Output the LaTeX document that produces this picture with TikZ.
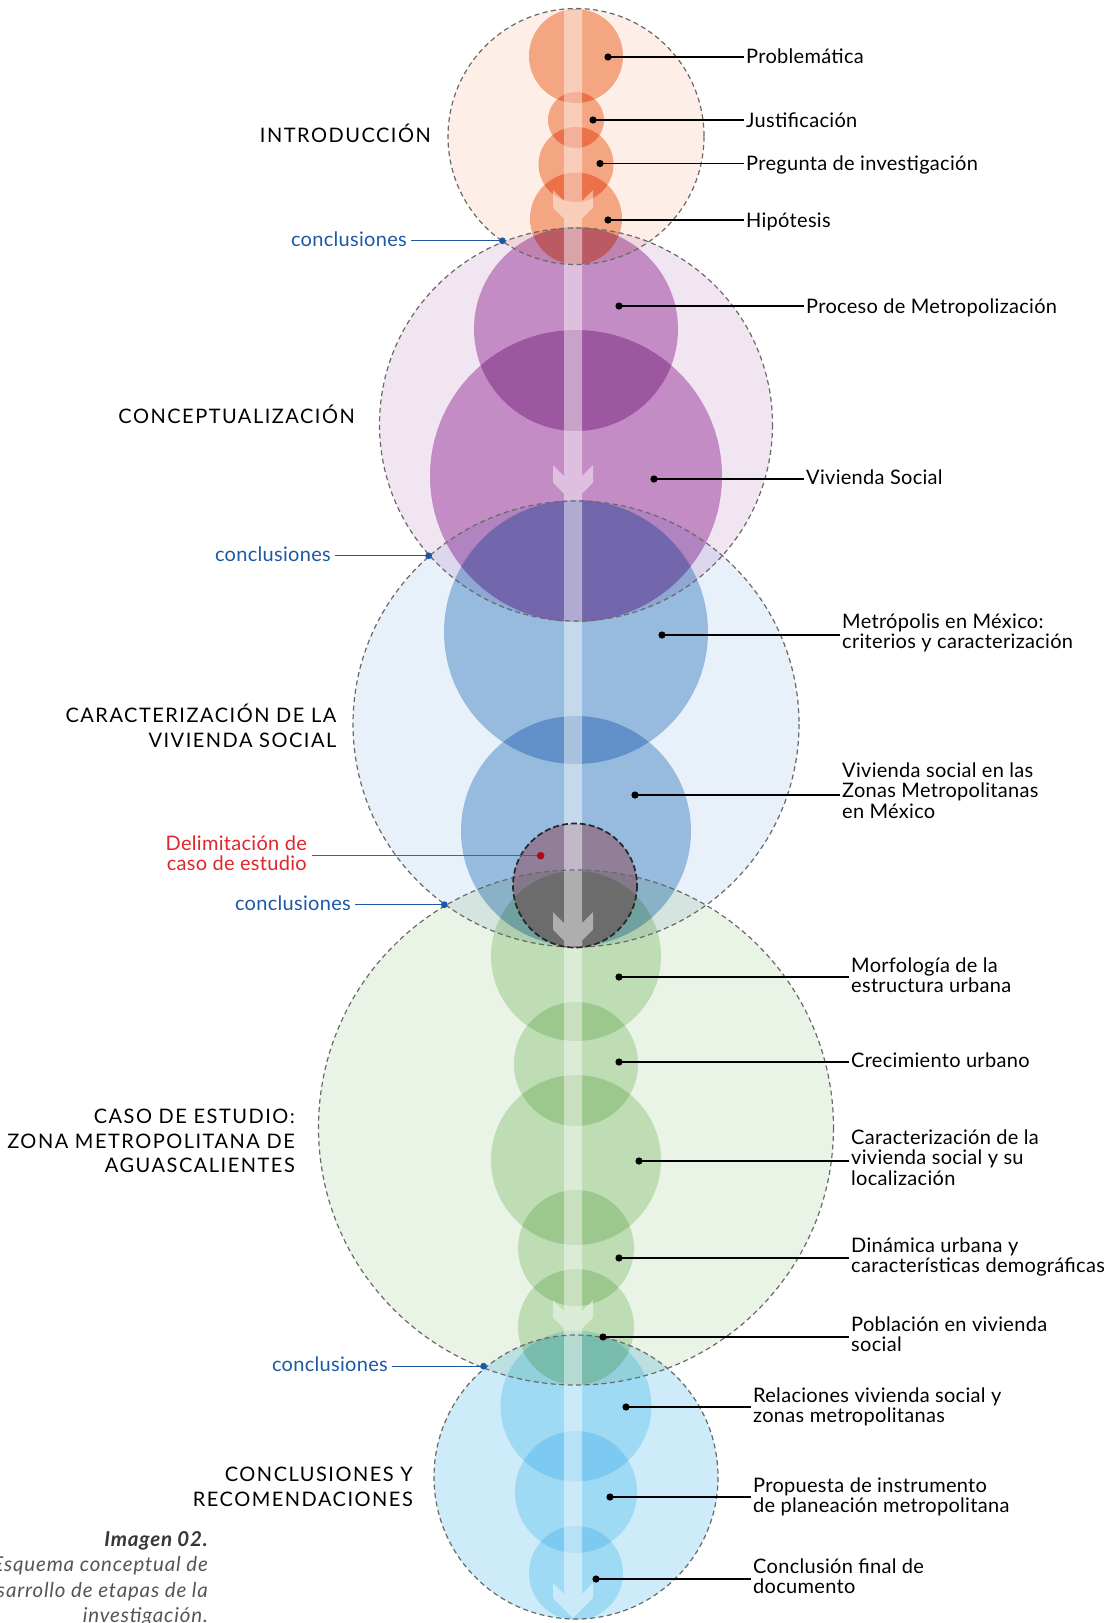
\documentclass[tikz,border=0pt]{standalone}
\usepackage{fontspec}
\setmainfont{Lato}

% stage colours (multiplied over each other)
\definecolor{introBig}{RGB}{253,238,231}
\definecolor{introSm}{RGB}{246,177,143}
\definecolor{concBig}{RGB}{242,229,242}
\definecolor{concSm}{RGB}{206,157,208}
\definecolor{caraBig}{RGB}{232,240,249}
\definecolor{caraSm}{RGB}{165,199,229}
\definecolor{casoBig}{RGB}{234,244,230}
\definecolor{casoSm}{RGB}{209,231,201}
\definecolor{cierreBig}{RGB}{205,235,248}
\definecolor{cierreSm}{RGB}{199,237,252}
\definecolor{delimFill}{RGB}{248,172,176}
% text and line colours
\definecolor{ringGray}{RGB}{105,105,105}
\definecolor{concBlue}{RGB}{28,88,168}
\definecolor{delimRed}{RGB}{225,38,42}
\definecolor{delimDot}{RGB}{180,8,22}
\definecolor{capDark}{RGB}{55,55,55}
\definecolor{capGray}{RGB}{85,85,85}

\newcommand\topstrut{\vrule width 0pt height 19pt depth 0pt}
\newcommand\lblfont{\fontsize{20}{20.5}\selectfont\addfontfeatures{LetterSpace=1.5}\lineskiplimit=-100pt}
\newcommand\stagefont{\fontsize{20}{24.8}\selectfont\addfontfeatures{LetterSpace=7.5}\lineskiplimit=-100pt}
\newcommand\capfont{\fontsize{20.5}{25.5}\selectfont\addfontfeatures{LetterSpace=4}\lineskiplimit=-100pt}

\tikzset{
  ring/.style={draw=ringGray, line width=1.2, dash pattern=on 5 off 3.5},
  delimring/.style={draw=black!85, line width=1.7, dash pattern=on 6 off 3},
  lbl/.style={anchor=north west, inner sep=0, align=left, font=\lblfont, text=black},
  stage/.style={anchor=north east, inner sep=0, align=right, font=\stagefont, text=black},
  concl/.style={anchor=base east, inner sep=0, font=\lblfont, text=concBlue},
  leader/.style={draw=black, line width=1.2, shorten >=2},
  bluelead/.style={draw=concBlue, line width=1.1, shorten <=4},
  dotmark/.style={fill=black},
}

\begin{document}
\begin{tikzpicture}[x=1pt,y=-1pt]
\clip (0,0) rectangle (1114,1623);
\fill[white] (0,0) rectangle (1114,1623);

% ---------- discs of the five stages ----------
\begin{scope}[blend mode=multiply]
  % introduccion
  \fill[introBig] (576,136.5) circle[radius=128];
  \fill[introSm] (576,56) circle[radius=47];
  \fill[introSm] (576,120) circle[radius=28];
  \fill[introSm] (576,164.5) circle[radius=37.5];
  \fill[introSm] (576,218.5) circle[radius=46];
  % conceptualizacion
  \fill[concBig] (576,424.5) circle[radius=196.5];
  \fill[concSm] (576,329) circle[radius=102];
  \fill[concSm] (576,476) circle[radius=146];
  % caracterizacion
  \fill[caraBig] (576,724) circle[radius=223];
  \fill[caraSm] (576,632) circle[radius=132];
  \fill[caraSm] (576,831) circle[radius=115];
  % caso de estudio
  \fill[casoBig] (576,1127.5) circle[radius=257.5];
  \fill[casoSm] (576,956) circle[radius=85];
  \fill[casoSm] (576,1064) circle[radius=62];
  \fill[casoSm] (576,1160) circle[radius=85];
  \fill[casoSm] (576,1248) circle[radius=58];
  \fill[casoSm] (576,1327) circle[radius=58];
  % conclusiones
  \fill[cierreBig] (576,1477) circle[radius=142];
  \fill[cierreSm] (576,1406) circle[radius=75.5];
  \fill[cierreSm] (576,1492) circle[radius=61];
  \fill[cierreSm] (576,1573) circle[radius=47];
  % delimitacion del caso de estudio
  \fill[delimFill] (575,885.5) circle[radius=62];
\end{scope}

% ---------- central arrow ----------
\fill[white, opacity=0.45]
  (564,10)
  -- (564,201) -- (553,190) -- (553,207.5) -- (564,218.5)
  -- (564,476) -- (553,465) -- (553,482.5) -- (564,493.5)
  -- (564,923) -- (553,912) -- (553,929.5) -- (564,940.5)
  -- (564,1311) -- (553,1300) -- (553,1317.5) -- (564,1328.5)
  -- (564,1594) -- (553,1583) -- (553,1598) -- (573,1618)
  -- (593,1598) -- (593,1583) -- (582,1594)
  -- (582,1328.5) -- (593,1317.5) -- (593,1300) -- (582,1311)
  -- (582,940.5) -- (593,929.5) -- (593,912) -- (582,923)
  -- (582,493.5) -- (593,482.5) -- (593,465) -- (582,476)
  -- (582,218.5) -- (593,207.5) -- (593,190) -- (582,201)
  -- (582,10) -- cycle;

% ---------- dashed stage outlines ----------
\draw[ring] (576,136.5) circle[radius=128];
\draw[ring] (576,424.5) circle[radius=196.5];
\draw[ring] (576,724) circle[radius=223];
\draw[ring] (576,1127.5) circle[radius=257.5];
\draw[ring] (576,1477) circle[radius=142];
\draw[delimring] (575,885.5) circle[radius=62];

% ---------- stage titles ----------
\node[stage] (tIntro) at (431,142.5-19) {\topstrut INTRODUCCIÓN};
\node[stage] (tConc) at (355,423.5-19) {\topstrut CONCEPTUALIZACIÓN};
\node[stage] (tCara) at (336.5,722.6-19) {\topstrut CARACTERIZACIÓN DE LA\\VIVIENDA SOCIAL};
\node[stage] (tCaso) at (295,1123-19) {\topstrut CASO DE ESTUDIO:\\ZONA METROPOLITANA DE\\AGUASCALIENTES};
\node[stage] (tCierre) at (413,1481.5-19) {\topstrut CONCLUSIONES Y\\RECOMENDACIONES};

% ---------- topic dots ----------
\coordinate (dProb) at (608,57);
\coordinate (dJust) at (593,120);
\coordinate (dPreg) at (600,163.5);
\coordinate (dHipo) at (608,220);
\coordinate (dProc) at (619,306);
\coordinate (dVivS) at (654,479);
\coordinate (dMetr) at (662,635);
\coordinate (dVivZ) at (635,795);
\coordinate (dMorf) at (619,977);
\coordinate (dCrec) at (619,1062);
\coordinate (dCarV) at (639,1161);
\coordinate (dDina) at (619,1258);
\coordinate (dPobl) at (603,1337);
\coordinate (dRela) at (626,1407);
\coordinate (dProp) at (610,1497);
\coordinate (dFina) at (596,1579);

% ---------- topic labels ----------
\node[lbl] (lProb) at (746,63-19) {\topstrut Problemática};
\node[lbl] (lJust) at (746,127-19) {\topstrut Justificación};
\node[lbl] (lPreg) at (746,170-19) {\topstrut Pregunta de investigación};
\node[lbl] (lHipo) at (746,227-19) {\topstrut Hipótesis};
\node[lbl] (lProc) at (806,313-19) {\topstrut Proceso de Metropolización};
\node[lbl] (lVivS) at (806,484-19) {\topstrut Vivienda Social};
\node[lbl] (lMetr) at (842,628-19) {\topstrut Metrópolis en México:\\criterios y caracterización};
\node[lbl] (lVivZ) at (842,777-19) {\topstrut Vivienda social en las\\Zonas Metropolitanas\\en México};
\node[lbl] (lMorf) at (851,972-19) {\topstrut Morfología de la\\estructura urbana};
\node[lbl] (lCrec) at (851,1067-19) {\topstrut Crecimiento urbano};
\node[lbl] (lCarV) at (851,1144-19) {\topstrut Caracterización de la\\vivienda social y su\\localización};
\node[lbl] (lDina) at (851,1252-19) {\topstrut Dinámica urbana y\\características demográficas};
\node[lbl] (lPobl) at (851,1331-19) {\topstrut Población en vivienda\\social};
\node[lbl] (lRela) at (753,1402-19) {\topstrut Relaciones vivienda social y\\zonas metropolitanas};
\node[lbl] (lProp) at (753,1492-19) {\topstrut Propuesta de instrumento\\de planeación metropolitana};
\node[lbl] (lFina) at (753,1573-19) {\topstrut Conclusión final de\\documento};

\foreach \d/\l in {dProb/lProb, dJust/lJust, dPreg/lPreg, dHipo/lHipo,
                   dProc/lProc, dVivS/lVivS, dMetr/lMetr, dVivZ/lVivZ,
                   dMorf/lMorf, dCrec/lCrec, dCarV/lCarV, dDina/lDina,
                   dPobl/lPobl, dRela/lRela, dProp/lProp, dFina/lFina}{
  \draw[leader] (\d) -- (\d -| \l.west);
  \fill[dotmark] (\d) circle[radius=3.6];
}

% ---------- conclusions at each stage boundary ----------
\coordinate (c1) at (502.4,240.8);
\coordinate (c2) at (428.6,555.8);
\coordinate (c3) at (444.3,904.7);
\coordinate (c4) at (483.6,1366.2);
\node[concl] (k1) at (407,246.3) {conclusiones};
\node[concl] (k2) at (331,561.3) {conclusiones};
\node[concl] (k3) at (351,910.2) {conclusiones};
\node[concl] (k4) at (388,1371.7) {conclusiones};
\foreach \c/\k in {c1/k1, c2/k2, c3/k3, c4/k4}{
  \draw[bluelead] (\k.east |- \c) -- (\c);
  \fill[concBlue] (\c) circle[radius=3.4];
}

% ---------- case study boundary ----------
\coordinate (dDel) at (540.7,855.7);
\node[anchor=north east, inner sep=0, align=right, font=\lblfont, text=delimRed]
  (lDel) at (307,850-19) {\topstrut Delimitación de\\caso de estudio};
\draw[delimRed, line width=1.2, shorten <=5] (lDel.east |- dDel) -- (dDel);
\fill[delimDot] (dDel) circle[radius=3.8];

% ---------- caption ----------
\node[anchor=north east, inner sep=0, align=right, font=\capfont\itshape, text=capGray]
  (cap) at (208,1546-19)
  {\topstrut{\bfseries\color{capDark}Imagen 02.}\\Esquema conceptual de\\desarrollo de etapas de la\\investigación.};

\end{tikzpicture}
\end{document}
